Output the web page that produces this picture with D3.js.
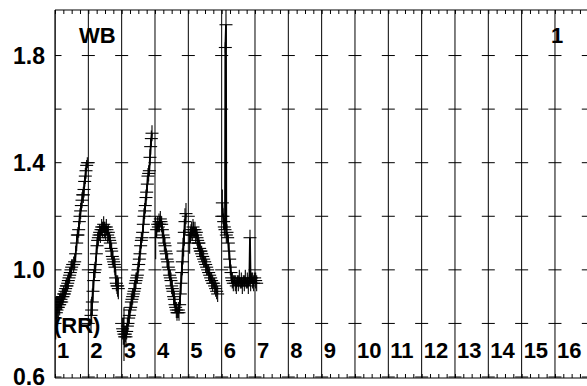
<!DOCTYPE html>
<html><head><meta charset="utf-8">
<script src="https://cdn.jsdelivr.net/npm/d3@7"></script>
<style>
body{margin:0;background:#fff;overflow:hidden;}
svg{display:block;font-family:"Liberation Sans",Arial,sans-serif;font-weight:bold;}
</style>
</head><body>
<svg id="c" width="587" height="386"></svg>
<script>
// ---- data ----
const columnLabels = ["1","2","3","4","5","6","7","8","9","10","11","12","13","14","15","16"];
const yTickValues = [0.6, 0.8, 1.0, 1.2, 1.4, 1.6, 1.8];
const yTickLabels = ["0.6", "1.0", "1.4", "1.8"];

const seg1X = [0.02,0.04,0.06,0.08,0.10,0.12,0.14,0.16,0.18,0.20,0.22,0.24,0.26,0.28,0.30,0.32,0.34,0.36,0.38,0.40,0.42,0.44,0.46,0.48,0.50,0.53,0.56,0.59,0.62,0.65,0.67,0.69,0.71,0.73,0.75,0.77,0.79,0.81,0.83,0.85,0.87,0.89,0.91,0.93,0.95,0.97];
const seg1Y = [0.82,0.84,0.85,0.86,0.86,0.87,0.87,0.88,0.89,0.88,0.90,0.90,0.91,0.91,0.92,0.93,0.94,0.94,0.95,0.96,0.97,0.98,0.99,1.00,1.01,1.02,1.02,1.03,1.06,1.10,1.13,1.13,1.15,1.18,1.20,1.22,1.24,1.26,1.28,1.28,1.30,1.33,1.35,1.37,1.39,1.40];
const seg1E = [0.08,0.06,0.05,0.04,0.04,0.03,0.04,0.03,0.03,0.03,0.03,0.03,0.03,0.02,0.03,0.03,0.03,0.02,0.03,0.03,0.02,0.03,0.02,0.03,0.03,0.02,0.03,0.03,0.03,0.03,0.02,0.03,0.03,0.03,0.03,0.03,0.02,0.03,0.02,0.03,0.03,0.02,0.03,0.03,0.02,0.02];

const seg2X = [1.08,1.10,1.12,1.14,1.16,1.18,1.20,1.22,1.24,1.26,1.28,1.30,1.32,1.34,1.36,1.38,1.40,1.42,1.44,1.46,1.48,1.50,1.52,1.54,1.56,1.58,1.60,1.62,1.64,1.66,1.68,1.70,1.72,1.74,1.76,1.78,1.80,1.82,1.84,1.86,1.88,1.90];
const seg2Y = [0.83,0.85,0.88,0.92,0.96,0.99,1.00,1.02,1.06,1.09,1.11,1.12,1.13,1.14,1.13,1.15,1.16,1.15,1.16,1.17,1.15,1.16,1.14,1.16,1.15,1.13,1.14,1.12,1.11,1.10,1.08,1.07,1.05,1.04,1.03,1.02,1.01,0.97,0.95,0.94,0.94,0.93];
const seg2E = [0.06,0.05,0.05,0.04,0.04,0.03,0.03,0.03,0.03,0.03,0.03,0.03,0.02,0.03,0.03,0.02,0.03,0.03,0.02,0.03,0.03,0.02,0.03,0.03,0.02,0.03,0.03,0.02,0.03,0.03,0.03,0.03,0.03,0.03,0.02,0.03,0.03,0.03,0.03,0.03,0.04,0.04];

const seg3X = [2.03,2.05,2.07,2.09,2.11,2.13,2.15,2.17,2.19,2.21,2.23,2.25,2.27,2.29,2.31,2.33,2.35,2.37,2.39,2.41,2.43,2.45,2.47,2.49,2.51,2.53,2.55,2.57,2.59,2.61,2.63,2.65,2.67,2.69,2.71,2.73,2.75,2.77,2.79,2.81,2.83,2.85,2.87,2.89,2.91];
const seg3Y = [0.78,0.77,0.76,0.75,0.76,0.75,0.77,0.79,0.80,0.82,0.83,0.85,0.86,0.88,0.89,0.90,0.91,0.92,0.93,0.95,0.96,0.97,0.98,1.00,1.02,1.04,1.06,1.09,1.11,1.12,1.14,1.17,1.20,1.22,1.24,1.27,1.29,1.32,1.35,1.36,1.37,1.42,1.46,1.49,1.51];
const seg3E = [0.04,0.05,0.10,0.04,0.03,0.04,0.03,0.03,0.03,0.03,0.03,0.03,0.02,0.03,0.03,0.03,0.02,0.03,0.03,0.03,0.03,0.02,0.03,0.03,0.03,0.03,0.03,0.03,0.03,0.02,0.03,0.03,0.03,0.03,0.03,0.03,0.03,0.03,0.03,0.03,0.02,0.03,0.03,0.03,0.03];

const seg4X = [3.02,3.05,3.08,3.10,3.12,3.14,3.16,3.18,3.20,3.22,3.24,3.26,3.28,3.30,3.32,3.34,3.36,3.38,3.40,3.42,3.44,3.46,3.48,3.50,3.52,3.54,3.56,3.58,3.60,3.62,3.64,3.66,3.68,3.70,3.72,3.74,3.76,3.78,3.80,3.82,3.84,3.86,3.88,3.90,3.93];
const seg4Y = [1.12,1.15,1.17,1.16,1.18,1.17,1.19,1.18,1.17,1.15,1.13,1.12,1.10,1.09,1.07,1.06,1.04,1.03,1.01,1.00,0.98,0.97,0.96,0.94,0.93,0.92,0.90,0.89,0.87,0.86,0.85,0.84,0.84,0.85,0.84,0.87,0.91,0.95,0.99,1.03,1.07,1.10,1.14,1.18,1.21];
const seg4E = [0.08,0.03,0.03,0.02,0.03,0.03,0.03,0.02,0.03,0.03,0.03,0.03,0.03,0.03,0.03,0.02,0.03,0.03,0.03,0.03,0.02,0.03,0.03,0.03,0.03,0.02,0.03,0.03,0.03,0.02,0.03,0.03,0.02,0.03,0.03,0.03,0.04,0.04,0.04,0.05,0.05,0.05,0.05,0.05,0.04];

const seg5X = [4.04,4.06,4.08,4.10,4.12,4.14,4.16,4.18,4.20,4.22,4.24,4.26,4.28,4.30,4.32,4.34,4.36,4.38,4.40,4.43,4.46,4.49,4.52,4.55,4.58,4.61,4.64,4.67,4.70,4.73,4.76,4.79,4.82,4.85,4.88];
const seg5Y = [1.10,1.13,1.14,1.15,1.13,1.16,1.15,1.14,1.15,1.13,1.14,1.12,1.11,1.10,1.10,1.08,1.07,1.07,1.06,1.05,1.04,1.03,1.02,1.01,1.00,0.99,0.98,0.97,0.96,0.95,0.95,0.94,0.93,0.92,0.91];
const seg5E = [0.04,0.03,0.03,0.03,0.02,0.03,0.03,0.02,0.03,0.03,0.02,0.03,0.03,0.03,0.02,0.03,0.03,0.02,0.03,0.03,0.03,0.02,0.03,0.03,0.02,0.03,0.03,0.02,0.03,0.03,0.02,0.03,0.03,0.03,0.03];

const seg6X = [5.02,5.04,5.06,5.08,5.10,5.11,5.13,5.14,5.16,5.18,5.20,5.22,5.24,5.26,5.28,5.30,5.32,5.35,5.38,5.41,5.44,5.47,5.50,5.53,5.56,5.59,5.62,5.65,5.68,5.71,5.74,5.77,5.80,5.83,5.85,5.87,5.90,5.93,5.96,5.99,6.02,6.05];
const seg6Y = [1.25,1.20,1.18,1.16,1.15,1.83,1.915,1.13,1.14,1.12,1.10,1.07,1.04,1.01,0.99,0.97,0.96,0.95,0.96,0.95,0.94,0.96,0.95,0.97,0.95,0.96,0.94,0.96,0.95,0.97,0.95,0.96,0.94,0.96,1.12,0.95,0.97,0.96,0.95,0.97,0.96,0.95];
const seg6E = [0.05,0.03,0.03,0.03,0.03,0.02,0.09,0.03,0.03,0.02,0.03,0.03,0.03,0.03,0.03,0.02,0.03,0.03,0.02,0.03,0.03,0.02,0.03,0.03,0.02,0.03,0.03,0.02,0.03,0.03,0.02,0.03,0.03,0.02,0.03,0.03,0.02,0.03,0.03,0.02,0.03,0.03];

const segments = [
  [seg1X, seg1Y, seg1E],
  [seg2X, seg2Y, seg2E],
  [seg3X, seg3Y, seg3E],
  [seg4X, seg4Y, seg4E],
  [seg5X, seg5Y, seg5E],
  [seg6X, seg6Y, seg6E]
].map(([xs, ys, es]) => xs.map((v, i) => ({x: v, y: ys[i], e: es[i]})));

// ---- drawing ----
const pLeft = 55, pRight = 588.3, pTop = 10, pBottom = 378;
const svg = d3.select("#c");
const x = d3.scaleLinear().domain([0, 16]).range([pLeft, pRight]);
const y = d3.scaleLinear().domain([0.6, 1.97]).range([377, pTop]);

svg.append("defs").append("clipPath").attr("id", "clip")
  .append("rect").attr("x", pLeft).attr("y", pTop).attr("width", pRight - pLeft).attr("height", pBottom - pTop);

const g = svg.append("g").attr("clip-path", "url(#clip)");

// vertical grid lines at each unit
g.selectAll("line.v").data(d3.range(0, 17)).join("line")
  .attr("x1", d => x(d)).attr("x2", d => x(d))
  .attr("y1", pTop).attr("y2", pBottom)
  .attr("stroke", "#000").attr("stroke-width", 1);

// short horizontal tick marks on each vertical line
const crosses = [];
d3.range(0, 17).forEach(k => yTickValues.forEach(v => crosses.push({k, v})));
g.selectAll("line.h").data(crosses).join("line")
  .attr("x1", d => x(d.k) - 6.5).attr("x2", d => x(d.k) + 6.5)
  .attr("y1", d => y(d.v)).attr("y2", d => y(d.v))
  .attr("stroke", "#000").attr("stroke-width", 1);

// top & bottom minor ticks
const minor = d3.range(0, 16.001, 0.25);
svg.append("g").attr("transform", `translate(0,${pTop})`)
  .call(d3.axisTop(x).tickValues(minor).tickSize(-4).tickFormat(""))
  .call(a => a.select(".domain").remove())
  .selectAll("line").attr("stroke", "#000");
svg.append("g").attr("transform", `translate(0,${pBottom})`)
  .call(d3.axisBottom(x).tickValues(minor).tickSize(-4).tickFormat(""))
  .call(a => a.select(".domain").remove())
  .selectAll("line").attr("stroke", "#000");

// frame
svg.append("line").attr("x1", pLeft).attr("x2", pRight).attr("y1", pTop).attr("y2", pTop).attr("stroke", "#000").attr("stroke-width", 1.2);
svg.append("line").attr("x1", pLeft).attr("x2", pRight).attr("y1", pBottom).attr("y2", pBottom).attr("stroke", "#000").attr("stroke-width", 1.2);
svg.append("line").attr("x1", pLeft).attr("x2", pLeft).attr("y1", pTop).attr("y2", pBottom).attr("stroke", "#000").attr("stroke-width", 1.2);

// data
const line = d3.line().x(d => x(d.x)).y(d => y(d.y));
segments.forEach(seg => {
  const sg = g.append("g");
  sg.selectAll("line.eb").data(seg).join("line")
    .attr("x1", d => x(d.x)).attr("x2", d => x(d.x))
    .attr("y1", d => y(d.y + d.e)).attr("y2", d => y(d.y - d.e))
    .attr("stroke", "#000").attr("stroke-width", 1.1);
  sg.selectAll("line.mk").data(seg).join("line")
    .attr("x1", d => x(d.x) - 6.5).attr("x2", d => x(d.x) + 6.5)
    .attr("y1", d => y(d.y)).attr("y2", d => y(d.y))
    .attr("stroke", "#000").attr("stroke-width", 1.1);
  sg.append("path").datum(seg).attr("d", line)
    .attr("fill", "none").attr("stroke", "#000").attr("stroke-width", 1.8);
});

// y labels
svg.selectAll("text.yl").data(yTickLabels).join("text")
  .attr("x", 45).attr("y", d => y(+d))
  .attr("text-anchor", "end").attr("dominant-baseline", "central")
  .attr("font-size", 23).text(d => d);

// column labels
svg.selectAll("text.cl").data(columnLabels).join("text")
  .attr("x", (d, i) => x(i) + 2).attr("y", 358)
  .attr("font-size", 22).text(d => d);

// annotations
svg.append("text").attr("x", 79).attr("y", 43).attr("font-size", 22).text("WB");
svg.append("text").attr("x", 551).attr("y", 43).attr("font-size", 22).text("1");
svg.append("text").attr("x", 54).attr("y", 333).attr("font-size", 22).text("(RR)");
</script>
</body></html>
